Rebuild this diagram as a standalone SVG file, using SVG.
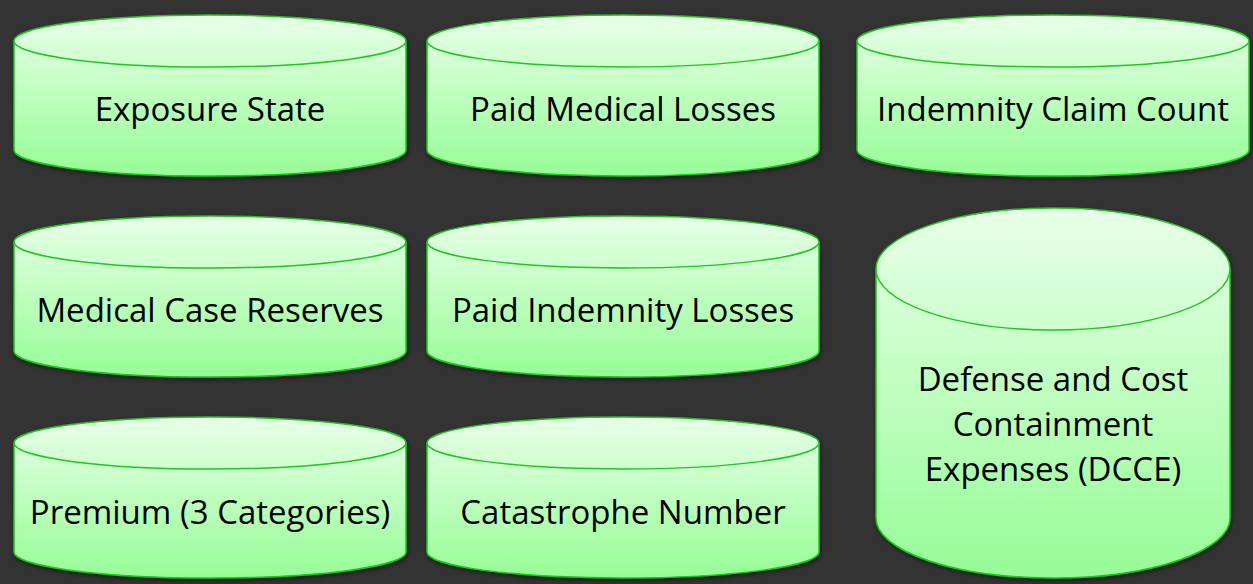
<svg xmlns="http://www.w3.org/2000/svg" width="1253" height="584" viewBox="0 0 1253 584">
<defs>
<linearGradient id="g" x1="0" y1="0" x2="0" y2="1">
<stop offset="0" stop-color="#e8ffe8"/>
<stop offset="1" stop-color="#96fc96"/>
</linearGradient>
<filter id="sh" x="-5%" y="-5%" width="110%" height="115%">
<feGaussianBlur in="SourceAlpha" stdDeviation="2"/>
<feOffset dx="1" dy="2"/>
<feComponentTransfer><feFuncA type="linear" slope="0.5"/></feComponentTransfer>
<feMerge><feMergeNode/><feMergeNode in="SourceGraphic"/></feMerge>
</filter>
</defs>
<style>
.body{fill:url(#g);stroke:#1ec81e;stroke-width:1.5;filter:url(#sh)}
.rim{fill:none;stroke:#1ec81e;stroke-width:1.5}
.t{font-family:"Open Sans","Noto Sans",sans-serif;font-size:33px;fill:#000;text-anchor:middle}
</style>
<rect width="1253" height="584" fill="#333333"/>
<g id="connectors"></g>
<g id="n1">
<path class="body" d="M14,41 A196,26 0 0 1 406,41 L406,150 A196,26 0 0 1 14,150 Z"/>
<path class="rim" d="M14,41 A196,26 0 0 0 406,41"/>
<text class="t" x="210" y="121">Exposure State</text>
</g>
<g id="n2">
<path class="body" d="M427,41 A196,26 0 0 1 819,41 L819,150 A196,26 0 0 1 427,150 Z"/>
<path class="rim" d="M427,41 A196,26 0 0 0 819,41"/>
<text class="t" x="623" y="121">Paid Medical Losses</text>
</g>
<g id="n3">
<path class="body" d="M857,41 A196,26 0 0 1 1249,41 L1249,150 A196,26 0 0 1 857,150 Z"/>
<path class="rim" d="M857,41 A196,26 0 0 0 1249,41"/>
<text class="t" x="1053" y="121">Indemnity Claim Count</text>
</g>
<g id="n4">
<path class="body" d="M14,242 A196,26 0 0 1 406,242 L406,351 A196,26 0 0 1 14,351 Z"/>
<path class="rim" d="M14,242 A196,26 0 0 0 406,242"/>
<text class="t" x="210" y="322">Medical Case Reserves</text>
</g>
<g id="n5">
<path class="body" d="M427,242 A196,26 0 0 1 819,242 L819,351 A196,26 0 0 1 427,351 Z"/>
<path class="rim" d="M427,242 A196,26 0 0 0 819,242"/>
<text class="t" x="623" y="322">Paid Indemnity Losses</text>
</g>
<g id="n6">
<path class="body" d="M14,443 A196,26 0 0 1 406,443 L406,552 A196,26 0 0 1 14,552 Z"/>
<path class="rim" d="M14,443 A196,26 0 0 0 406,443"/>
<text class="t" x="210" y="524">Premium (3 Categories)</text>
</g>
<g id="n7">
<path class="body" d="M427,443 A196,26 0 0 1 819,443 L819,552 A196,26 0 0 1 427,552 Z"/>
<path class="rim" d="M427,443 A196,26 0 0 0 819,443"/>
<text class="t" x="623" y="524">Catastrophe Number</text>
</g>
<g id="n8">
<path class="body" d="M876,269 A177,61 0 0 1 1230,269 L1230,518 A177,60 0 0 1 876,518 Z"/>
<path class="rim" d="M876,269 A177,61 0 0 0 1230,269"/>
<text class="t" x="1053" y="391">Defense and Cost</text>
<text class="t" x="1053" y="436">Containment</text>
<text class="t" x="1053" y="481">Expenses (DCCE)</text>
</g>
</svg>
